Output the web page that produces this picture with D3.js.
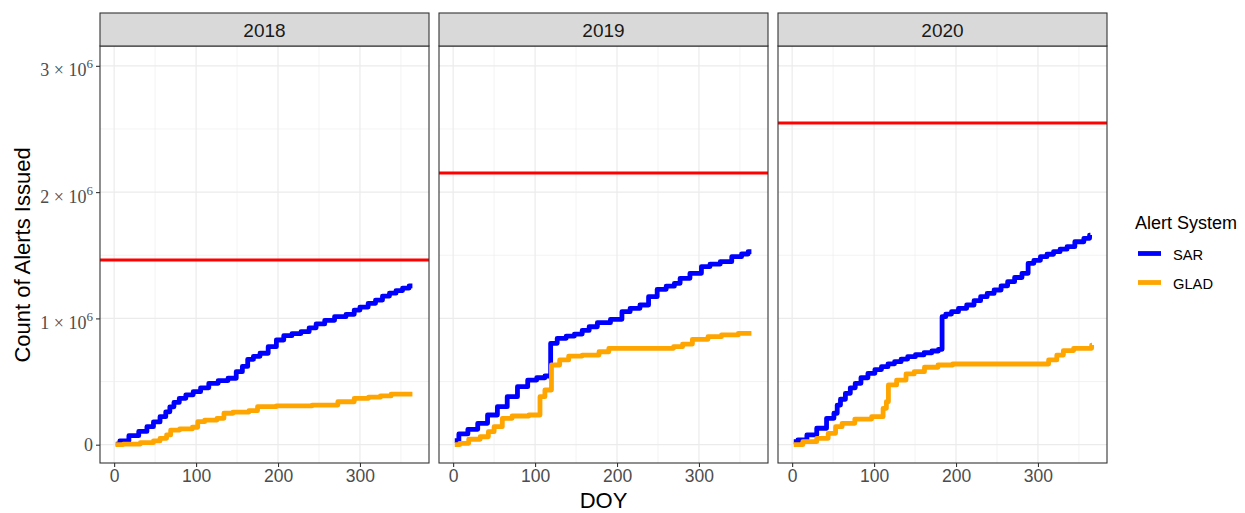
<!DOCTYPE html>
<html>
<head>
<meta charset="utf-8">
<script src="https://cdn.jsdelivr.net/npm/d3@7"></script>
<style>
  body { margin: 0; background: #fff; }
  svg { font-family: "Liberation Sans", Arial, sans-serif; }
</style>
</head>
<body>
<div id="chart"></div>
<script>
// facet years and the alert systems
var years = ["2018", "2019", "2020"];
var systems = ["SAR", "GLAD"];
var systemColors = ["#0000FF", "#FFA500"];

// cumulative counts, [DOY, count]
var sar2018 = [[2,5e3],[12,3e4],[24,7.1e4],[36,1.05e5],[44,1.43e5],[52,1.8e5],[60,2.22e5],[66,2.6e5],[70,3.0e5],[76,3.35e5],[83,3.67e5],[92,3.95e5],[101,4.2e5],[110,4.5e5],[121,4.86e5],[133,5.08e5],[145,5.26e5],[153,5.78e5],[160,6.2e5],[166,6.76e5],[174,7.0e5],[182,7.24e5],[194,7.76e5],[202,8.29e5],[212,8.63e5],[222,8.8e5],[234,8.95e5],[242,9.25e5],[251,9.56e5],[263,9.85e5],[275,1.014e6],[291,1.032e6],[295,1.066e6],[305,1.09e6],[315,1.119e6],[323,1.145e6],[332,1.177e6],[340,1.2e6],[348,1.22e6],[356,1.24e6],[364,1.257e6]];
var glad2018 = [[2,0],[20,5e3],[44,1.6e4],[52,3e4],[60,5e4],[68,7.7e4],[70,1.16e5],[90,1.25e5],[101,1.38e5],[103,1.82e5],[118,1.95e5],[133,2.09e5],[135,2.49e5],[155,2.58e5],[174,2.69e5],[176,3.01e5],[220,3.07e5],[263,3.14e5],[283,3.4e5],[303,3.67e5],[318,3.76e5],[332,3.86e5],[344,4.01e5],[364,4.01e5]];
var sar2019 = [[2,3.2e4],[12,8.5e4],[24,1.22e5],[36,1.69e5],[48,2.35e5],[60,3.01e5],[72,3.8e5],[85,4.59e5],[97,5.12e5],[107,5.3e5],[117,5.44e5],[121,8.03e5],[133,8.42e5],[143,8.6e5],[153,8.76e5],[162,9.05e5],[170,9.34e5],[182,9.66e5],[202,9.93e5],[210,1.053e6],[222,1.08e6],[234,1.106e6],[243,1.172e6],[255,1.23e6],[265,1.255e6],[275,1.278e6],[279,1.317e6],[299,1.357e6],[307,1.41e6],[320,1.43e6],[332,1.449e6],[348,1.489e6],[356,1.51e6],[364,1.528e6]];
var glad2019 = [[2,0],[14,1.1e4],[24,4.3e4],[42,6.3e4],[44,1.03e5],[56,1.43e5],[64,2.09e5],[80,2.27e5],[105,2.35e5],[107,3.8e5],[117,4.33e5],[123,6.31e5],[137,6.71e5],[145,7.02e5],[170,7.1e5],[186,7.36e5],[194,7.63e5],[263,7.63e5],[275,7.76e5],[285,7.97e5],[299,8.34e5],[323,8.55e5],[332,8.69e5],[364,8.82e5]];
var sar2020 = [[2,2.4e4],[12,3.7e4],[24,7.7e4],[36,1.3e5],[48,2.09e5],[54,2.49e5],[56,3.14e5],[62,3.6e5],[68,4.07e5],[74,4.5e5],[80,4.86e5],[88,5.3e5],[97,5.65e5],[105,5.95e5],[113,6.18e5],[121,6.4e5],[129,6.57e5],[137,6.78e5],[145,6.97e5],[156,7.12e5],[166,7.28e5],[175,7.42e5],[182,7.55e5],[184,1.014e6],[191,1.034e6],[198,1.053e6],[208,1.08e6],[218,1.106e6],[226,1.14e6],[234,1.172e6],[242,1.198e6],[251,1.225e6],[259,1.258e6],[267,1.291e6],[276,1.324e6],[285,1.357e6],[291,1.436e6],[299,1.46e6],[307,1.489e6],[315,1.508e6],[323,1.528e6],[331,1.548e6],[340,1.568e6],[350,1.607e6],[362,1.634e6],[364,1.66e6]];
var glad2020 = [[2,0],[24,2.4e4],[36,5e4],[52,9e4],[54,1.43e5],[68,1.69e5],[85,2.03e5],[109,2.22e5],[113,2.88e5],[117,3.4e5],[118,4.73e5],[137,5.12e5],[141,5.6e5],[157,5.78e5],[166,6.13e5],[190,6.31e5],[202,6.39e5],[307,6.39e5],[319,6.71e5],[327,7.1e5],[335,7.45e5],[352,7.63e5],[365,7.63e5],[366,7.89e5]];

// horizontal reference line per year
var thresholds = [1.462e6, 2.151e6, 2.547e6];

var yTicks = [0, 1e6, 2e6, 3e6];
var yTickExp = ["0", "1", "2", "3"];
var xTicks = [0, 100, 200, 300];

var seriesByYear = [[sar2018, glad2018], [sar2019, glad2019], [sar2020, glad2020]];

var svgWidth = 1245, svgHeight = 513;
var panelLeft = 100, panelW = 329, panelGap = 10;
var stripTop = 13, stripH = 33;
var plotTop = stripTop + stripH, plotBottom = 463;

var svg = d3.select("#chart").append("svg")
  .attr("width", svgWidth)
  .attr("height", svgHeight);

// ggplot style expansion of DOY 1..366
var x = d3.scaleLinear().domain([-17.25, 384.25]).range([0, panelW]);
var y = d3.scaleLinear().domain([-0.145e6, 3.157e6]).range([plotBottom, plotTop]);

var line = d3.line()
  .x(d => x(d[0]))
  .y(d => y(d[1]))
  .curve(d3.curveStep);

years.forEach(function(year, i) {
  var px = panelLeft + i * (panelW + panelGap);
  var g = svg.append("g").attr("transform", `translate(${px},0)`);

  // minor grid
  [50, 150, 250, 350].forEach(function(v) {
    g.append("line").attr("x1", x(v)).attr("x2", x(v))
      .attr("y1", plotTop).attr("y2", plotBottom)
      .attr("stroke", "#EBEBEB").attr("stroke-width", 0.6);
  });
  [0.5e6, 1.5e6, 2.5e6].forEach(function(v) {
    g.append("line").attr("x1", 0).attr("x2", panelW)
      .attr("y1", y(v)).attr("y2", y(v))
      .attr("stroke", "#EBEBEB").attr("stroke-width", 0.6);
  });
  // major grid
  xTicks.forEach(function(v) {
    g.append("line").attr("x1", x(v)).attr("x2", x(v))
      .attr("y1", plotTop).attr("y2", plotBottom)
      .attr("stroke", "#EBEBEB").attr("stroke-width", 1.2);
  });
  yTicks.forEach(function(v) {
    g.append("line").attr("x1", 0).attr("x2", panelW)
      .attr("y1", y(v)).attr("y2", y(v))
      .attr("stroke", "#EBEBEB").attr("stroke-width", 1.2);
  });

  // threshold line
  g.append("line")
    .attr("x1", 0).attr("x2", panelW)
    .attr("y1", y(thresholds[i])).attr("y2", y(thresholds[i]))
    .attr("stroke", "#FF0000").attr("stroke-width", 3);

  // series
  seriesByYear[i].forEach(function(data, k) {
    g.append("path")
      .datum(data)
      .attr("d", line)
      .attr("fill", "none")
      .attr("stroke", systemColors[k])
      .attr("stroke-width", 4.8)
      .attr("stroke-linejoin", "round");
  });

  // panel border
  g.append("rect")
    .attr("x", 0).attr("y", plotTop)
    .attr("width", panelW).attr("height", plotBottom - plotTop)
    .attr("fill", "none").attr("stroke", "#333333").attr("stroke-width", 1.1);

  // strip
  g.append("rect")
    .attr("x", 0).attr("y", stripTop)
    .attr("width", panelW).attr("height", stripH)
    .attr("fill", "#D9D9D9").attr("stroke", "#333333").attr("stroke-width", 1.1);
  g.append("text")
    .attr("x", panelW / 2).attr("y", stripTop + stripH / 2 + 7)
    .attr("text-anchor", "middle")
    .style("font-size", "19px")
    .attr("fill", "#1A1A1A")
    .text(year);

  // x axis
  var xAxis = g.append("g")
    .attr("transform", `translate(0,${plotBottom})`)
    .call(d3.axisBottom(x).tickValues(xTicks).tickSize(4).tickPadding(3));
  xAxis.select(".domain").remove();
  xAxis.selectAll(".tick line").attr("stroke", "#333333").attr("stroke-width", 1.1);
  xAxis.selectAll(".tick text")
    .style("font-family", "'Liberation Sans', Arial, sans-serif")
    .style("font-size", "17.5px").attr("fill", "#4D4D4D");

  // y axis only on the first panel
  if (i === 0) {
    var yAxis = g.append("g")
      .call(d3.axisLeft(y).tickValues(yTicks).tickSize(4).tickFormat(""));
    yAxis.select(".domain").remove();
    yAxis.selectAll(".tick line").attr("stroke", "#333333").attr("stroke-width", 1.1);

    yTicks.forEach(function(v, j) {
      var t = g.append("text")
        .attr("x", -7)
        .attr("text-anchor", "end")
        .style("font-family", "'Liberation Serif', 'Times New Roman', serif")
        .style("font-size", "18px")
        .attr("fill", "#4D4D4D");
      if (v === 0) {
        t.attr("y", y(v) + 6.3).text("0");
      } else {
        t.attr("y", y(v) + 10.5);
        t.append("tspan").text(yTickExp[j] + " \u00D7 10");
        t.append("tspan").attr("dy", -8).style("font-size", "13px").text("6");
      }
    });
  }
});

// axis titles
svg.append("text")
  .attr("transform", "translate(30,255) rotate(-90)")
  .attr("text-anchor", "middle")
  .style("font-size", "22px")
  .attr("fill", "#000")
  .text("Count of Alerts Issued");

svg.append("text")
  .attr("x", panelLeft + (3 * panelW + 2 * panelGap) / 2)
  .attr("y", 508)
  .attr("text-anchor", "middle")
  .style("font-size", "22px")
  .attr("fill", "#000")
  .text("DOY");

// legend
var legend = svg.append("g").attr("transform", "translate(1135,0)");
legend.append("text")
  .attr("x", 0).attr("y", 229)
  .style("font-size", "18px")
  .attr("fill", "#000")
  .text("Alert System");

systems.forEach(function(s, k) {
  var ly = 253.5 + k * 29;
  legend.append("line")
    .attr("x1", 3).attr("x2", 26)
    .attr("y1", ly).attr("y2", ly)
    .attr("stroke", systemColors[k]).attr("stroke-width", 4.8);
  legend.append("text")
    .attr("x", 38).attr("y", ly + 6)
    .style("font-size", "14.7px")
    .attr("fill", "#000")
    .text(s);
});
</script>
</body>
</html>
